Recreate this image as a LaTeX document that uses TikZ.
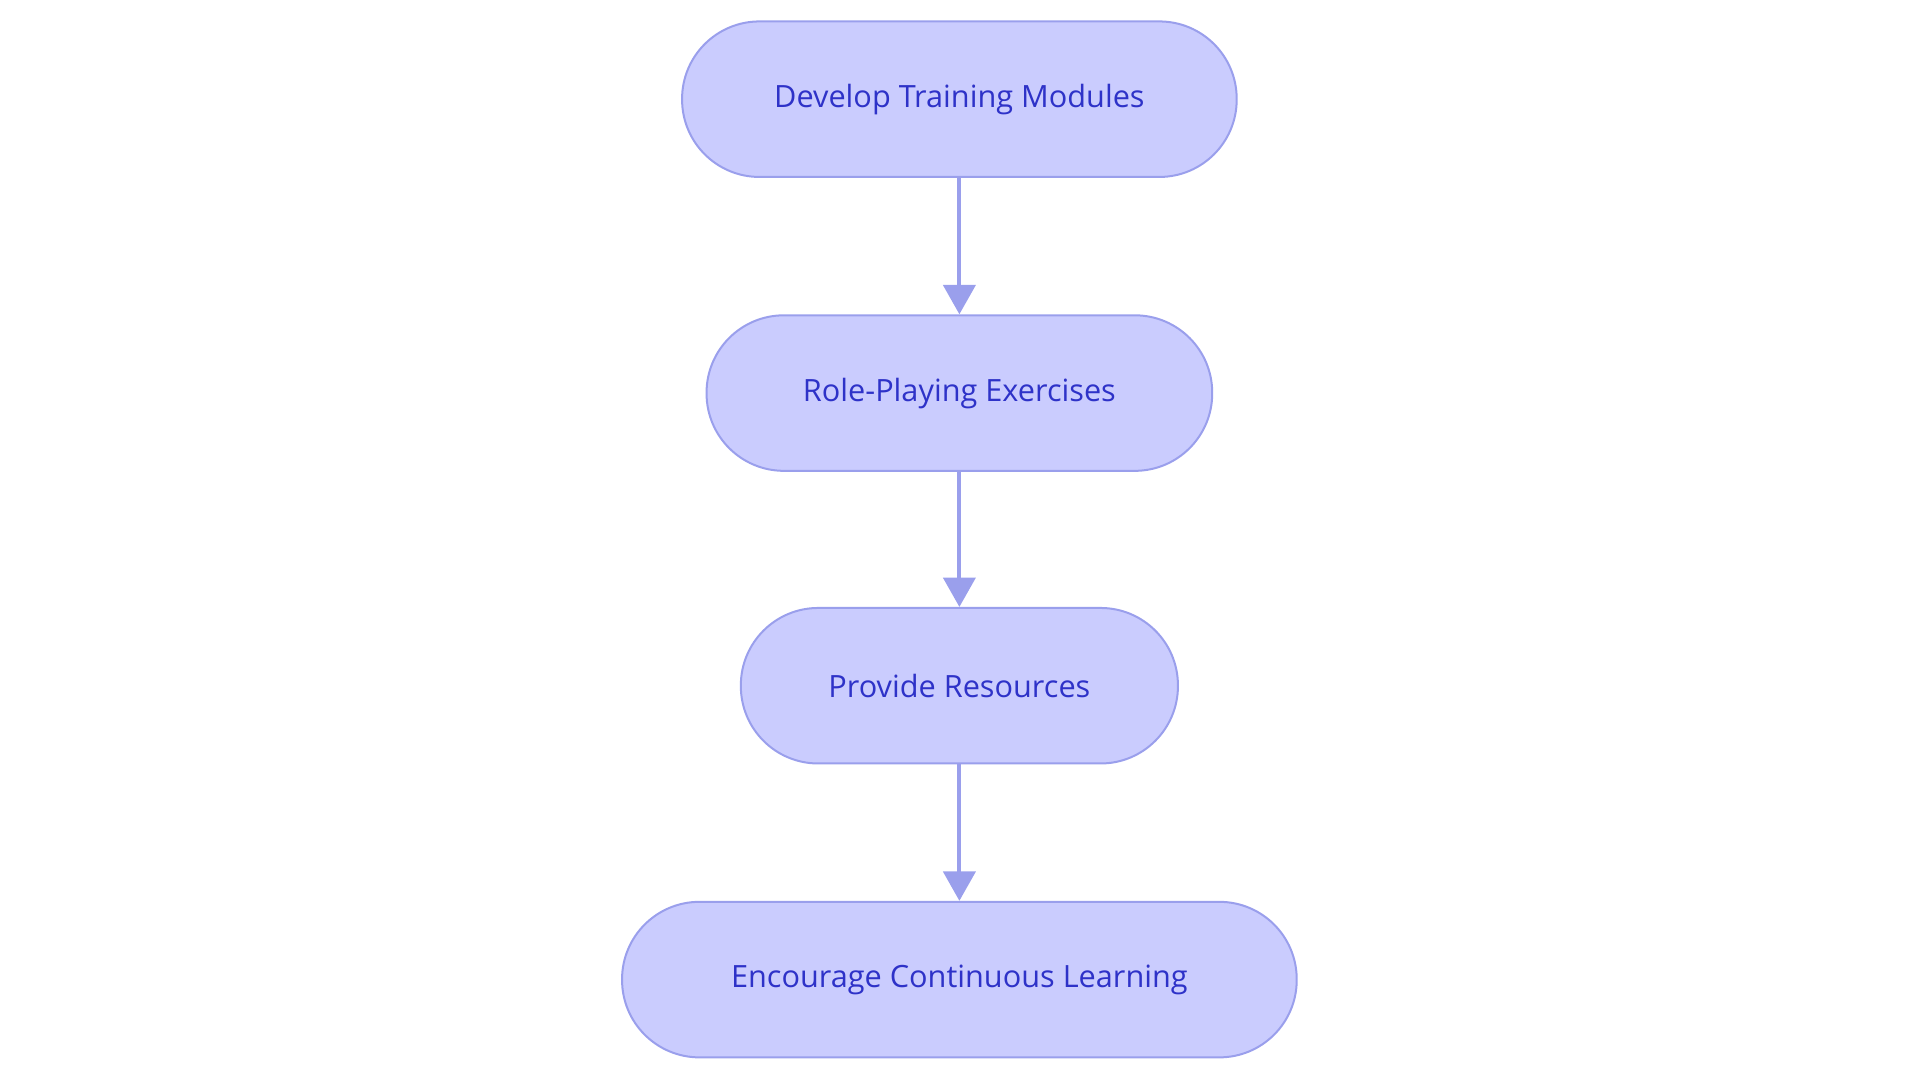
\documentclass[tikz,border=0pt]{standalone}
\usepackage{fontspec}
\setmainfont{Open Sans}
\usetikzlibrary{arrows.meta}
\definecolor{nfill}{HTML}{CACCFE}
\definecolor{nline}{HTML}{9A9FEC}
\definecolor{ntext}{HTML}{2E32C8}
\begin{document}
\begin{tikzpicture}[x=0.918pt,y=-0.918pt,
  stepbox/.style={draw=nline,line width=1.5pt,fill=nfill,rounded corners=58pt,
    minimum height=116.6pt,inner sep=0pt,text=ntext,font=\fontsize{23}{28}\selectfont},
  conn/.style={draw=nline,line width=3pt,-{Triangle[length=22pt,width=24pt]}}]
\useasboundingbox (0,0) rectangle (1568,884.4);
\node[stepbox,minimum width=415.8pt] (a) at (783.5,81) {Develop Training Modules};
\node[stepbox,minimum width=379.1pt] (b) at (783.5,321) {Role-Playing Exercises};
\node[stepbox,minimum width=327.7pt] (c) at (783.5,560) {Provide Resources};
\node[stepbox,minimum width=505.8pt] (d) at (783.5,800) {Encourage Continuous Learning};
\draw[conn] (a) -- (b);
\draw[conn] (b) -- (c);
\draw[conn] (c) -- (d);
\end{tikzpicture}
\end{document}
